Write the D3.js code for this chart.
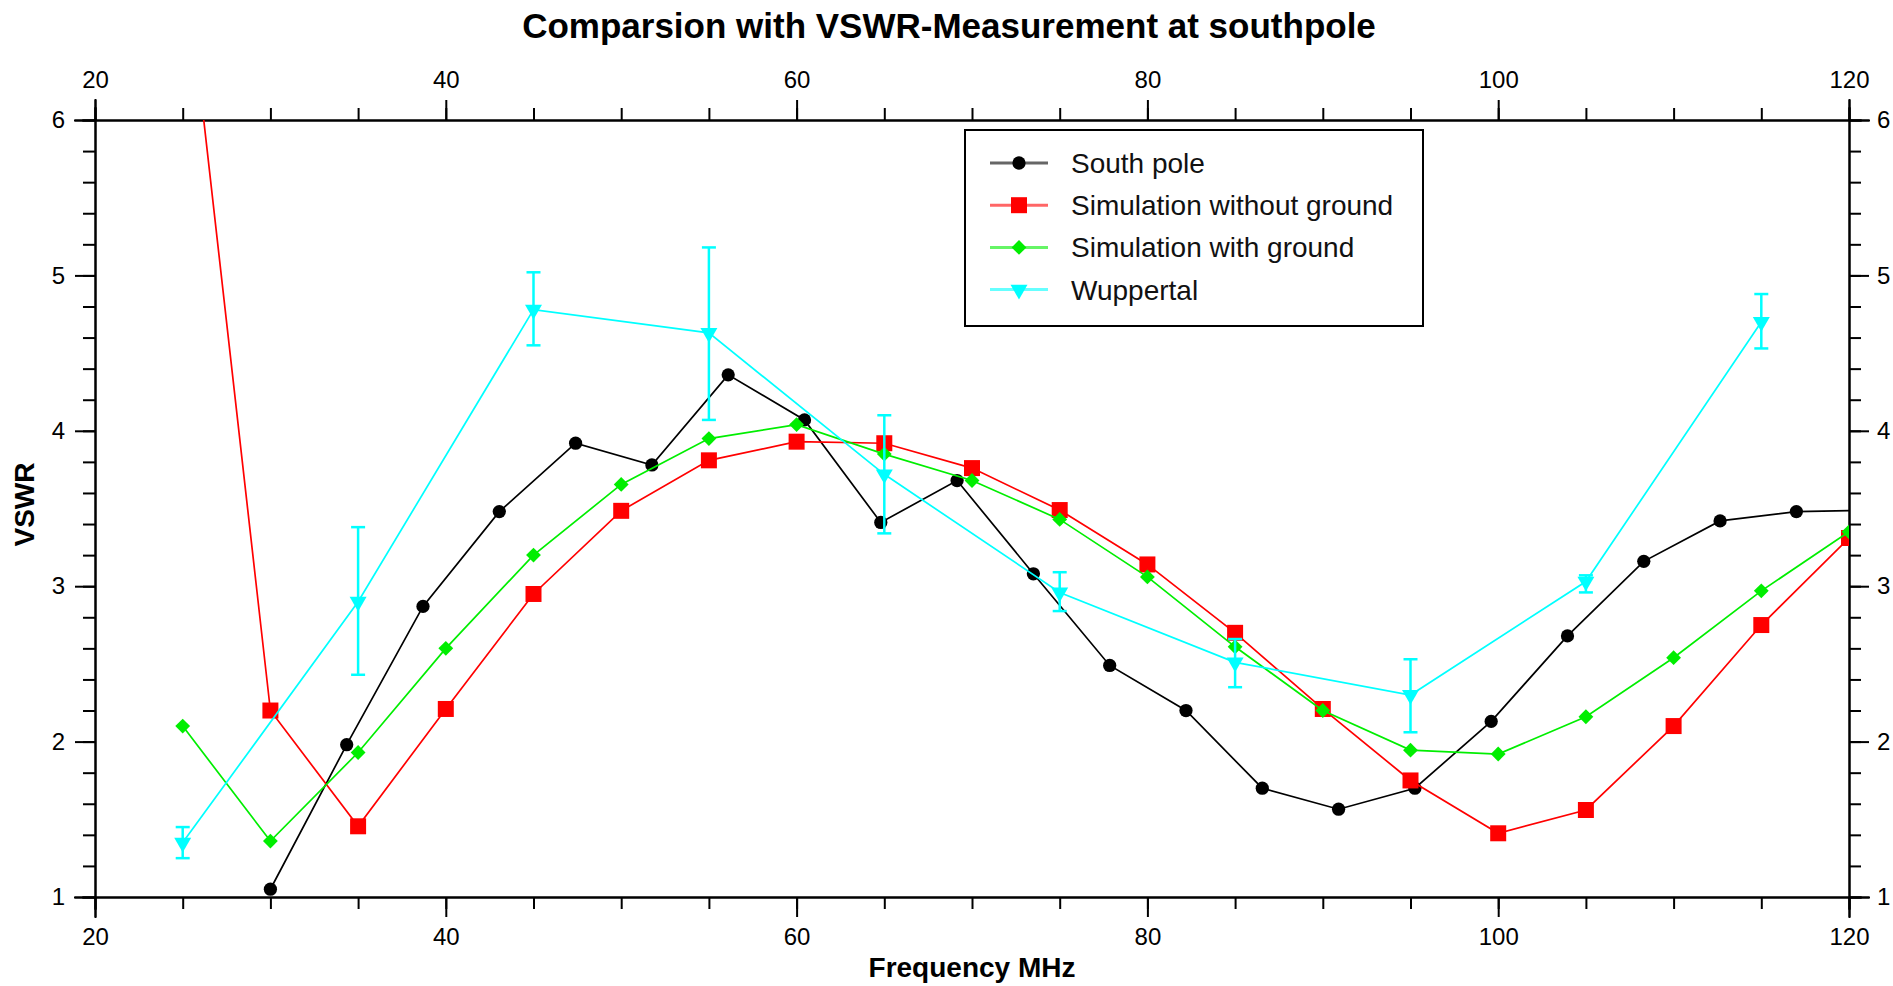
<!DOCTYPE html>
<html>
<head>
<meta charset="utf-8">
<script src="https://cdn.jsdelivr.net/npm/d3@7"></script>
<style>
  body { margin: 0; background: #fff; }
  svg text { font-family: "Liberation Sans", Arial, Helvetica, sans-serif; fill: #000; }
  .axis path, .axis line { stroke: #000; stroke-width: 2px; }
  .axis text { font-size: 24px; }
</style>
</head>
<body>
<div id="chart"></div>
<script>
// South pole measurement (frequency in MHz, VSWR)
const southFreq = [30.0, 34.35, 38.7, 43.05, 47.4, 51.75, 56.1, 60.45, 64.8, 69.15, 73.5,
                   77.85, 82.2, 86.55, 90.9, 95.25, 99.6, 103.95, 108.3, 112.65, 117.0, 121.35];
const southVswr = [1.05, 1.98, 2.87, 3.48, 3.92, 3.78, 4.36, 4.07, 3.41, 3.68, 3.08,
                   2.49, 2.20, 1.70, 1.565, 1.70, 2.13, 2.68, 3.16, 3.42, 3.48, 3.49];

// simulations, 25..120 MHz in 5 MHz steps
const simFreq = [25, 30, 35, 40, 45, 50, 55, 60, 65, 70, 75, 80, 85, 90, 95, 100, 105, 110, 115, 120];
const simNoGround = [7.2, 2.20, 1.455, 2.21, 2.95, 3.485, 3.81, 3.93, 3.92, 3.76,
                     3.49, 3.14, 2.70, 2.21, 1.75, 1.41, 1.56, 2.10, 2.75, 3.31];
const simGround = [2.10, 1.36, 1.93, 2.60, 3.20, 3.655, 3.95, 4.04, 3.85, 3.68,
                   3.43, 3.06, 2.61, 2.20, 1.945, 1.92, 2.16, 2.54, 2.97, 3.35];

// Wuppertal measurement with error range
const wupFreq = [25, 35, 45, 55, 65, 75, 85, 95, 105, 115];
const wupVswr = [1.35, 2.90, 4.78, 4.63, 3.72, 2.96, 2.51, 2.30, 3.03, 4.70];
const wupLow  = [1.25, 2.43, 4.55, 4.07, 3.34, 2.84, 2.35, 2.06, 2.96, 4.53];
const wupHigh = [1.45, 3.38, 5.02, 5.18, 4.10, 3.09, 2.66, 2.53, 3.07, 4.88];

const xTicks = [20, 40, 60, 80, 100, 120];
const yTicks = [1, 2, 3, 4, 5, 6];

const W = 1893, H = 986;
const margin = { top: 120, right: 44, bottom: 89, left: 95 };
const width = W - margin.left - margin.right,
      height = H - margin.top - margin.bottom;

const svg = d3.select("#chart").append("svg")
    .attr("width", W)
    .attr("height", H);

const g = svg.append("g")
    .attr("transform", `translate(${margin.left},${margin.top})`);

const x = d3.scaleLinear().domain([20, 120]).range([0, width]);
const y = d3.scaleLinear().domain([1, 6]).range([height, 0]);

g.append("clipPath").attr("id", "plot-clip")
  .append("rect").attr("width", width).attr("height", height);

// minor ticks first, then major ticks with labels
const minorX = d3.range(20, 121, 5);
const minorY = d3.range(1, 6.01, 0.2);

function minor(axis, vals) {
  return axis.tickValues(vals).tickSize(12).tickFormat("");
}
g.append("g").attr("class", "axis").call(minor(d3.axisTop(x), minorX));
g.append("g").attr("class", "axis").attr("transform", `translate(0,${height})`).call(minor(d3.axisBottom(x), minorX));
g.append("g").attr("class", "axis").call(minor(d3.axisLeft(y), minorY));
g.append("g").attr("class", "axis").attr("transform", `translate(${width},0)`).call(minor(d3.axisRight(y), minorY));

g.append("g").attr("class", "axis")
  .call(d3.axisTop(x).tickValues(xTicks).tickSize(20).tickPadding(12).tickFormat(d3.format("d")));
g.append("g").attr("class", "axis")
  .attr("transform", `translate(0,${height})`)
  .call(d3.axisBottom(x).tickValues(xTicks).tickSize(20).tickPadding(11).tickFormat(d3.format("d")));
g.append("g").attr("class", "axis")
  .call(d3.axisLeft(y).tickValues(yTicks).tickSize(20).tickPadding(10).tickFormat(d3.format("d")));
g.append("g").attr("class", "axis")
  .attr("transform", `translate(${width},0)`)
  .call(d3.axisRight(y).tickValues(yTicks).tickSize(20).tickPadding(8).tickFormat(d3.format("d")));

g.selectAll(".axis path.domain").attr("stroke-linecap", "square");

// marker shapes
const markers = {
  circle: d3.symbol().type(d3.symbolCircle).size(Math.PI * 44),
  square: d3.symbol().type(d3.symbolSquare).size(256),
  diamond: d3.symbol().type(d3.symbolSquare).size(110),
  triangle: d3.symbol().type(d3.symbolTriangle).size(125)
};
const rotation = { circle: 0, square: 0, diamond: 45, triangle: 180 };

const series = [
  { name: "South pole", color: "#000000", shape: "circle", xs: southFreq, ys: southVswr },
  { name: "Simulation without ground", color: "#ff0000", shape: "square", xs: simFreq, ys: simNoGround },
  { name: "Simulation with ground", color: "#00ee00", shape: "diamond", xs: simFreq, ys: simGround },
  { name: "Wuppertal", color: "#00ffff", shape: "triangle", xs: wupFreq, ys: wupVswr }
];

const plot = g.append("g").attr("clip-path", "url(#plot-clip)");

const line = d3.line().x(d => x(d[0])).y(d => y(d[1]));

series.forEach(s => {
  const pts = s.xs.map((f, i) => [f, s.ys[i]]);
  const sg = plot.append("g");

  sg.append("path")
    .datum(pts)
    .attr("fill", "none")
    .attr("stroke", s.color)
    .attr("stroke-width", 1.7)
    .attr("d", line);

  if (s.name === "Wuppertal") {
    const bars = wupFreq.map((f, i) => ({ f, lo: wupLow[i], hi: wupHigh[i] }));
    const eb = sg.append("g").attr("stroke", s.color).attr("stroke-width", 2.5);
    eb.selectAll("line.v").data(bars).join("line")
      .attr("x1", d => x(d.f)).attr("x2", d => x(d.f))
      .attr("y1", d => y(d.lo)).attr("y2", d => y(d.hi));
    eb.selectAll("line.hi").data(bars).join("line")
      .attr("x1", d => x(d.f) - 7).attr("x2", d => x(d.f) + 7)
      .attr("y1", d => y(d.hi)).attr("y2", d => y(d.hi));
    eb.selectAll("line.lo").data(bars).join("line")
      .attr("x1", d => x(d.f) - 7).attr("x2", d => x(d.f) + 7)
      .attr("y1", d => y(d.lo)).attr("y2", d => y(d.lo));
  }

  sg.selectAll("path.mark")
    .data(pts)
    .join("path")
      .attr("class", "mark")
      .attr("fill", s.color)
      .attr("d", markers[s.shape])
      .attr("transform", d => `translate(${x(d[0])},${y(d[1])}) rotate(${rotation[s.shape]})`);
});

// legend
const legend = svg.append("g").attr("transform", "translate(965,130)");
legend.append("rect")
  .attr("width", 458)
  .attr("height", 196)
  .attr("fill", "#fff")
  .attr("stroke", "#000")
  .attr("stroke-width", 2);

series.forEach((s, i) => {
  const row = legend.append("g").attr("transform", `translate(0,${33 + i * 42.2})`);
  row.append("line")
    .attr("x1", 25).attr("x2", 83)
    .attr("stroke", s.color)
    .attr("stroke-opacity", 0.6)
    .attr("stroke-width", 3);
  row.append("path")
    .attr("fill", s.color)
    .attr("d", markers[s.shape])
    .attr("transform", `translate(54,0) rotate(${rotation[s.shape]})`);
  row.append("text")
    .attr("x", 106)
    .attr("y", 10)
    .style("font-size", "28px")
    .style("fill", "#111")
    .text(s.name);
});

// titles
svg.append("text")
  .attr("x", 949)
  .attr("y", 38)
  .attr("text-anchor", "middle")
  .style("font-size", "35px")
  .style("font-weight", "bold")
  .text("Comparsion with VSWR-Measurement at southpole");

svg.append("text")
  .attr("x", margin.left + width / 2)
  .attr("y", 977)
  .attr("text-anchor", "middle")
  .style("font-size", "28px")
  .style("font-weight", "bold")
  .text("Frequency MHz");

svg.append("text")
  .attr("transform", `translate(34,${margin.top + height / 2 - 4}) rotate(-90)`)
  .attr("text-anchor", "middle")
  .style("font-size", "28px")
  .style("font-weight", "bold")
  .text("VSWR");
</script>
</body>
</html>
